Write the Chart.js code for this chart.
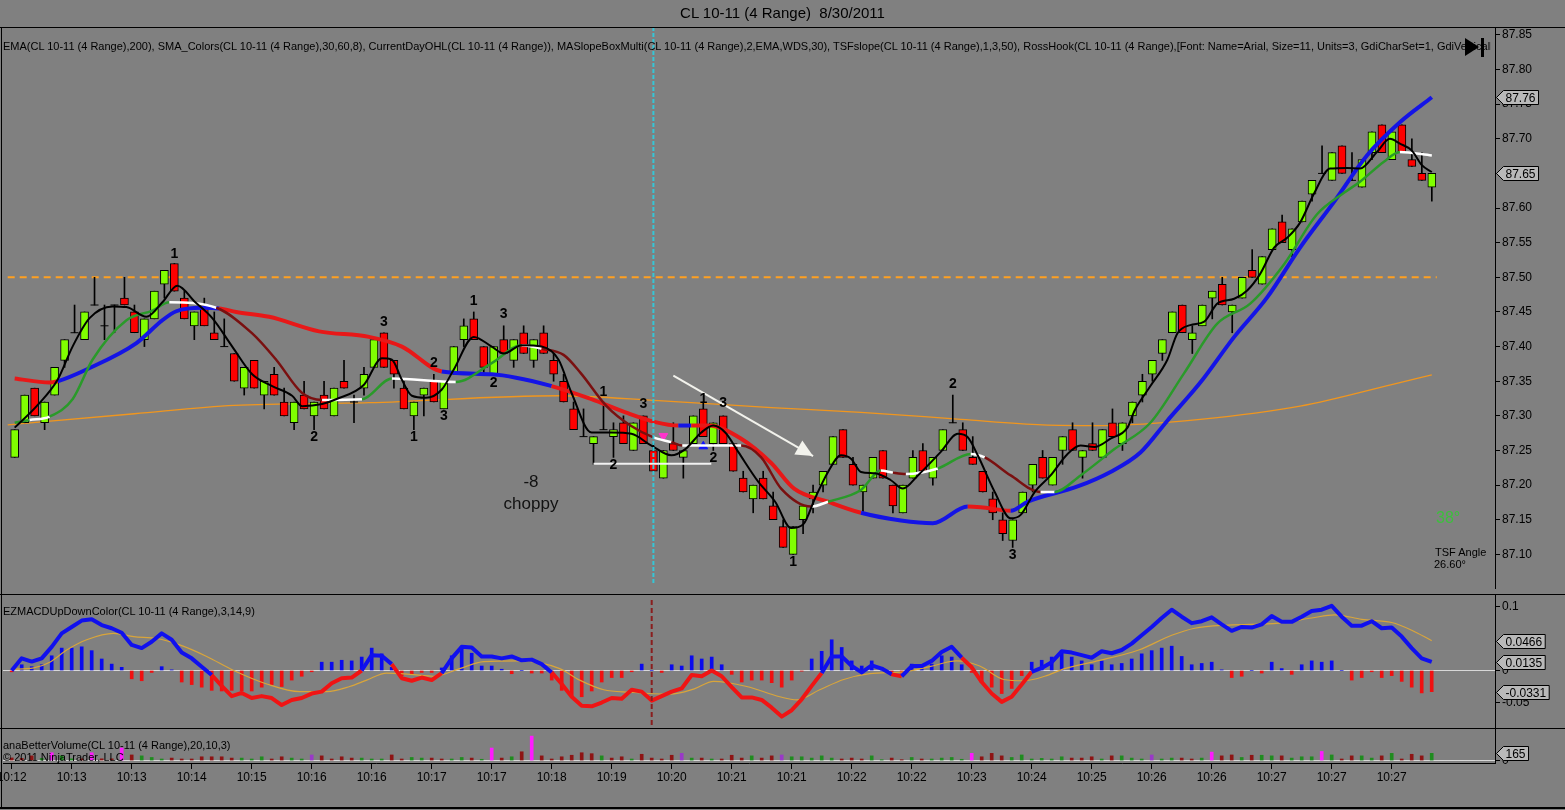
<!DOCTYPE html>
<html>
<head>
<meta charset="utf-8">
<script src="https://cdn.jsdelivr.net/npm/chart.js@4.4.0/dist/chart.umd.min.js"></script>
<style>
    html, body { margin: 0; padding: 0; background: #808080; }
    #wrap { position: relative; width: 1565px; height: 810px; overflow: hidden; background: #808080;
            font-family: "Liberation Sans", Arial, sans-serif; }
    canvas { position: absolute; left: 0; }
    .t { position: absolute; white-space: pre; color: #000; z-index: 6; }
    .ln { position: absolute; background: #000; z-index: 5; }
</style>
</head>
<body>
<div id="wrap">
    <canvas id="priceChart" width="1565" height="594" style="top:0"></canvas>
    <canvas id="macdChart" width="1565" height="134" style="top:594px"></canvas>
    <canvas id="volChart" width="1565" height="82" style="top:728px"></canvas>

    <div class="ln" style="left:0;top:27px;width:1565px;height:1px"></div>
    <div class="ln" style="left:0;top:594px;width:1565px;height:1px"></div>
    <div class="ln" style="left:0;top:728px;width:1565px;height:1px"></div>
    <div class="ln" style="left:0;top:807px;width:1565px;height:2px"></div>
    <div class="ln" style="left:1px;top:27px;width:1px;height:781px"></div>

    <div class="t" style="left:0;top:4px;width:1565px;text-align:center;font-size:15px">CL 10-11 (4 Range)  8/30/2011</div>
    <div class="t" style="left:3px;top:40px;width:1488px;overflow:hidden;font-size:11px">EMA(CL 10-11 (4 Range),200), SMA_Colors(CL 10-11 (4 Range),30,60,8), CurrentDayOHL(CL 10-11 (4 Range)), MASlopeBoxMulti(CL 10-11 (4 Range),2,EMA,WDS,30), TSFslope(CL 10-11 (4 Range),1,3,50), RossHook(CL 10-11 (4 Range),[Font: Name=Arial, Size=11, Units=3, GdiCharSet=1, GdiVerticalFont=False],3,2,4,5,True)</div>
    <div class="t" style="left:3px;top:605px;font-size:11px">EZMACDUpDownColor(CL 10-11 (4 Range),3,14,9)</div>
    <div class="t" style="left:3px;top:739px;font-size:11px">anaBetterVolume(CL 10-11 (4 Range),20,10,3)</div>
    <div class="t" style="left:3px;top:751px;font-size:11px">© 2011 NinjaTrader, LLC</div>
    <div class="t" style="left:491px;top:472px;width:80px;text-align:center;font-size:17px;color:#111">-8</div>
    <div class="t" style="left:491px;top:494px;width:80px;text-align:center;font-size:17px;color:#111">choppy</div>
    <div class="t" style="left:1436px;top:509px;font-size:16px;color:#3cbf3c">38°</div>
    <div class="t" style="left:1435px;top:546px;font-size:11px">TSF Angle</div>
    <div class="t" style="left:1434px;top:558px;font-size:11px">26.60°</div>
    <div style="position:absolute;left:1465px;top:38px;width:0;height:0;border-top:9px solid transparent;border-bottom:9px solid transparent;border-left:14px solid #000;z-index:6"></div>
    <div style="position:absolute;left:1481px;top:38px;width:3px;height:19px;background:#000;z-index:6"></div>
</div>

<script>
// ---- price bars (4 range), bar index 0..142 ----
const openPrices = [
    87.24, 87.29, 87.34, 87.29, 87.33, 87.38, 87.42, 87.41, 87.46, 87.43,
    87.46, 87.47, 87.45, 87.41, 87.44, 87.49, 87.52, 87.47, 87.43, 87.46,
    87.42, 87.40, 87.39, 87.34, 87.38, 87.33, 87.36, 87.32, 87.29, 87.33,
    87.30, 87.33, 87.30, 87.35, 87.32, 87.34, 87.37, 87.42, 87.38, 87.34,
    87.30, 87.33, 87.35, 87.31, 87.36, 87.41, 87.44, 87.40, 87.36, 87.41,
    87.38, 87.42, 87.38, 87.42, 87.38, 87.35, 87.31, 87.27, 87.26, 87.28,
    87.27, 87.29, 87.25, 87.30, 87.25, 87.21, 87.26, 87.24, 87.26, 87.31,
    87.26, 87.30, 87.26, 87.21, 87.18, 87.21, 87.17, 87.14, 87.10, 87.15,
    87.18, 87.20, 87.23, 87.28, 87.23, 87.19, 87.21, 87.25, 87.20, 87.16,
    87.21, 87.25, 87.21, 87.25, 87.29, 87.28, 87.24, 87.22, 87.18, 87.15,
    87.12, 87.16, 87.20, 87.24, 87.20, 87.25, 87.28, 87.24, 87.26, 87.24,
    87.29, 87.26, 87.30, 87.33, 87.36, 87.39, 87.42, 87.46, 87.41, 87.43,
    87.47, 87.49, 87.45, 87.47, 87.51, 87.49, 87.54, 87.58, 87.54, 87.58,
    87.62, 87.65, 87.64, 87.69, 87.64, 87.63, 87.68, 87.72, 87.67, 87.72,
    87.67, 87.65, 87.63
];
const highPrices = [
    87.28, 87.33, 87.34, 87.32, 87.37, 87.41, 87.46, 87.45, 87.50, 87.46,
    87.46, 87.50, 87.46, 87.44, 87.48, 87.51, 87.52, 87.48, 87.45, 87.47,
    87.45, 87.44, 87.39, 87.37, 87.38, 87.35, 87.37, 87.34, 87.32, 87.35,
    87.32, 87.35, 87.34, 87.38, 87.33, 87.37, 87.41, 87.42, 87.38, 87.35,
    87.32, 87.34, 87.36, 87.35, 87.40, 87.44, 87.45, 87.40, 87.40, 87.43,
    87.41, 87.43, 87.41, 87.43, 87.39, 87.36, 87.32, 87.31, 87.27, 87.32,
    87.29, 87.30, 87.29, 87.30, 87.26, 87.25, 87.29, 87.25, 87.30, 87.32,
    87.29, 87.30, 87.26, 87.22, 87.20, 87.22, 87.19, 87.15, 87.14, 87.17,
    87.20, 87.22, 87.27, 87.28, 87.24, 87.20, 87.24, 87.25, 87.20, 87.20,
    87.25, 87.26, 87.24, 87.28, 87.33, 87.29, 87.27, 87.22, 87.19, 87.16,
    87.15, 87.19, 87.23, 87.25, 87.24, 87.27, 87.29, 87.25, 87.29, 87.28,
    87.31, 87.29, 87.32, 87.36, 87.38, 87.41, 87.45, 87.46, 87.43, 87.46,
    87.48, 87.50, 87.46, 87.50, 87.54, 87.53, 87.57, 87.59, 87.57, 87.61,
    87.64, 87.69, 87.68, 87.69, 87.68, 87.67, 87.71, 87.72, 87.71, 87.72,
    87.70, 87.68, 87.65
];
const lowPrices = [
    87.24, 87.29, 87.30, 87.28, 87.33, 87.37, 87.42, 87.41, 87.46, 87.41,
    87.42, 87.46, 87.42, 87.40, 87.44, 87.47, 87.48, 87.44, 87.41, 87.43,
    87.41, 87.40, 87.35, 87.33, 87.34, 87.31, 87.33, 87.30, 87.28, 87.31,
    87.28, 87.31, 87.30, 87.34, 87.29, 87.33, 87.37, 87.37, 87.34, 87.31,
    87.28, 87.30, 87.32, 87.31, 87.36, 87.40, 87.41, 87.36, 87.36, 87.39,
    87.37, 87.39, 87.37, 87.39, 87.35, 87.32, 87.28, 87.27, 87.23, 87.28,
    87.24, 87.26, 87.25, 87.26, 87.22, 87.21, 87.25, 87.21, 87.26, 87.27,
    87.25, 87.26, 87.22, 87.19, 87.16, 87.18, 87.15, 87.11, 87.10, 87.13,
    87.16, 87.19, 87.23, 87.24, 87.20, 87.16, 87.21, 87.21, 87.16, 87.16,
    87.21, 87.22, 87.20, 87.25, 87.29, 87.25, 87.23, 87.19, 87.15, 87.12,
    87.11, 87.16, 87.19, 87.21, 87.20, 87.23, 87.25, 87.21, 87.25, 87.24,
    87.27, 87.25, 87.29, 87.32, 87.35, 87.38, 87.42, 87.42, 87.39, 87.43,
    87.44, 87.46, 87.42, 87.47, 87.50, 87.49, 87.54, 87.55, 87.53, 87.58,
    87.61, 87.65, 87.64, 87.65, 87.64, 87.63, 87.67, 87.68, 87.67, 87.68,
    87.66, 87.64, 87.61
];
const closePrices = [
    87.28, 87.33, 87.30, 87.32, 87.37, 87.41, 87.42, 87.45, 87.46, 87.43,
    87.46, 87.46, 87.42, 87.44, 87.48, 87.51, 87.48, 87.44, 87.45, 87.43,
    87.41, 87.40, 87.35, 87.37, 87.34, 87.35, 87.33, 87.30, 87.32, 87.31,
    87.32, 87.31, 87.34, 87.34, 87.32, 87.36, 87.41, 87.37, 87.36, 87.31,
    87.32, 87.34, 87.32, 87.35, 87.40, 87.43, 87.41, 87.37, 87.40, 87.39,
    87.41, 87.39, 87.41, 87.39, 87.36, 87.32, 87.28, 87.27, 87.27, 87.28,
    87.28, 87.26, 87.29, 87.26, 87.22, 87.25, 87.25, 87.25, 87.30, 87.27,
    87.29, 87.26, 87.22, 87.19, 87.20, 87.18, 87.15, 87.11, 87.14, 87.17,
    87.19, 87.22, 87.27, 87.24, 87.20, 87.20, 87.24, 87.21, 87.17, 87.20,
    87.24, 87.22, 87.24, 87.28, 87.29, 87.25, 87.23, 87.19, 87.16, 87.13,
    87.15, 87.19, 87.23, 87.21, 87.24, 87.27, 87.25, 87.25, 87.25, 87.28,
    87.27, 87.29, 87.32, 87.35, 87.38, 87.41, 87.45, 87.42, 87.42, 87.46,
    87.48, 87.46, 87.46, 87.50, 87.50, 87.53, 87.57, 87.55, 87.57, 87.61,
    87.64, 87.65, 87.68, 87.65, 87.64, 87.67, 87.71, 87.68, 87.71, 87.68,
    87.66, 87.64, 87.65
];

// ---- price indicators (vertices: bar position, value) ----
const ema200Bars = [-0.7, 12, 22, 35.5, 54.5, 64.5, 75.8, 84.8, 94.8, 103, 108.8, 118.8, 128.8, 138.8, 142];
const ema200Vals = [87.287, 87.303, 87.315, 87.319, 87.329, 87.322, 87.312, 87.305, 87.295, 87.287, 87.286, 87.295, 87.314, 87.348, 87.359];

const smaBars = [0, 3.5, 4.3, 7.2, 12.2, 14.8, 16.2, 18.8, 20.5, 22.2,
    25.5, 30.5, 35.5, 38.8, 42.8, 47.8, 53.8, 57.8, 61.2, 64.2,
    66.5, 67.8, 69.5, 72.8, 75.8, 78.1, 81.5, 84.8, 88.8, 92,
    95.5, 96.8, 99.8, 101.5, 106.5, 109.8, 112.8, 115.5, 118.8, 122.2,
    125.5, 128.8, 132.2, 135.5, 138.8, 142];
const smaVals = [87.354, 87.348, 87.350, 87.367, 87.405, 87.438, 87.451, 87.456, 87.455, 87.450,
    87.443, 87.422, 87.414, 87.400, 87.364, 87.360, 87.343, 87.324, 87.305, 87.291,
    87.286, 87.286, 87.286, 87.267, 87.232, 87.195, 87.176, 87.160, 87.149, 87.145,
    87.169, 87.168, 87.163, 87.176, 87.198, 87.219, 87.247, 87.293, 87.348, 87.414,
    87.471, 87.543, 87.609, 87.676, 87.724, 87.76];
// 1 = rising state, -1 = falling state (from each vertex to the next)
const smaTrend = [-1, -1, 1, 1, 1, 1, 1, 1, -1, -1,
    -1, -1, -1, -1, 1, 1, -1, -1, -1, -1,
    1, -1, -1, -1, -1, -1, -1, 1, 1, 1,
    -1, -1, 1, 1, 1, 1, 1, 1, 1, 1,
    1, 1, 1, 1, 1, 1];

const slowBars = [0, 1.5, 3.5, 5.8, 7.8, 11.2, 13.8, 15.5, 20.2, 23.8,
    26.2, 28.8, 30.8, 34.8, 37.8, 44.2, 47.8, 50.8, 52.8, 55,
    56.7, 59.3, 61.7, 64, 65.8, 66.9, 72.8, 74.8, 76.8, 79.8,
    81.5, 84.8, 86.8, 88, 89.3, 92.5, 95.8, 97.2, 99.8, 102.8,
    104.2, 106.8, 110.2, 113.8, 117.2, 120.5, 123.8, 127.2, 130.5, 133.2,
    134.8, 137.2, 138.8, 142];
const slowVals = [87.290, 87.294, 87.299, 87.324, 87.381, 87.438, 87.452, 87.464, 87.456, 87.419,
    87.381, 87.333, 87.323, 87.324, 87.354, 87.349, 87.376, 87.402, 87.397, 87.388,
    87.362, 87.314, 87.286, 87.269, 87.262, 87.257, 87.257, 87.240, 87.195, 87.169,
    87.176, 87.193, 87.221, 87.218, 87.216, 87.224, 87.245, 87.240, 87.214, 87.190,
    87.190, 87.214, 87.252, 87.290, 87.362, 87.433, 87.462, 87.519, 87.591, 87.622,
    87.638, 87.667, 87.681, 87.676];
// 1 = up, -1 = down, 0 = flat
const slowTrend = [1, 0, 1, 1, 1, 1, 1, 0, -1, -1,
    -1, -1, 0, 1, 0, 1, 1, 0, -1, -1,
    -1, -1, -1, 0, -1, 0, -1, -1, -1, 0,
    1, 1, 0, -1, 0, 1, 0, -1, -1, 0,
    1, 1, 1, 1, 1, 1, 1, 1, 1, 1,
    1, 1, 0, 0];

const fastBars = [0, 2.2, 4.3, 5.8, 7.5, 9.8, 11.2, 13.2, 14.8, 16.3,
    18.1, 19.8, 21.8, 23.8, 25.8, 27.8, 28.8, 30.8, 32.2, 35,
    36.8, 37.8, 38.8, 39.8, 41.2, 42.8, 44, 46, 47.8, 49,
    50.8, 52.8, 54.5, 55.8, 57.8, 59.8, 61.8, 63.8, 65.8, 67.2,
    68.8, 70, 71.2, 72.5, 74.5, 76.2, 77.8, 79, 80.2, 81.5,
    82.8, 83.8, 84.8, 86.2, 87.8, 89, 90.5, 92.8, 94.5, 95.5,
    96.5, 98.2, 99.8, 100.8, 102.2, 103.8, 105.5, 106.8, 108.2, 109.8,
    111.5, 112.2, 113.8, 115.5, 116.5, 117.8, 119.2, 120.5, 122.2, 123.5,
    124.8, 126.2, 127.5, 128.8, 130.2, 131.8, 133.5, 134.8, 136.5, 137.8,
    138.8, 140, 141, 142];
const fastVals = [87.283, 87.314, 87.352, 87.400, 87.441, 87.458, 87.457, 87.443, 87.464, 87.488,
    87.464, 87.441, 87.400, 87.360, 87.343, 87.329, 87.314, 87.317, 87.324, 87.345,
    87.383, 87.381, 87.352, 87.329, 87.326, 87.338, 87.367, 87.414, 87.400, 87.390,
    87.402, 87.400, 87.381, 87.333, 87.276, 87.276, 87.274, 87.257, 87.243, 87.252,
    87.276, 87.286, 87.276, 87.248, 87.205, 87.176, 87.138, 87.143, 87.181, 87.219,
    87.243, 87.238, 87.219, 87.217, 87.207, 87.195, 87.214, 87.248, 87.274, 87.269,
    87.243, 87.190, 87.152, 87.157, 87.190, 87.214, 87.245, 87.257, 87.255, 87.267,
    87.283, 87.307, 87.343, 87.381, 87.419, 87.431, 87.436, 87.462, 87.469, 87.481,
    87.505, 87.543, 87.557, 87.579, 87.621, 87.657, 87.658, 87.657, 87.681, 87.700,
    87.693, 87.683, 87.662, 87.652];

const dayHigh = 87.50;

// swing labels (Ross hook counts)
const swingBars = [16, 30, 37, 40, 42, 43, 46, 48, 49, 59, 60, 63, 69, 70, 71, 78, 94, 100];
const swingPrices = [87.534, 87.269, 87.436, 87.269, 87.376, 87.300, 87.466, 87.347, 87.447,
    87.334, 87.229, 87.317, 87.324, 87.239, 87.319, 87.089, 87.346, 87.099];
const swingTexts = ["1", "2", "3", "1", "2", "3", "1", "2", "3", "1", "2", "3", "1", "2", "3", "1", "2", "3"];

// hand drawn objects
const boxLineBars = [58, 69.8];
const boxLinePrice = [87.231, 87.231];
const arrowBars = [66, 80];
const arrowPrices = [87.358, 87.242];
const markerBars = [65, 69];
const markerPrices = [87.271, 87.256];
const signalBar = 64;

// ---- MACD panel ----
const macdVals = [
    0.000, 0.019, 0.014, 0.019, 0.037, 0.058, 0.068, 0.078, 0.080, 0.071,
    0.066, 0.059, 0.040, 0.035, 0.045, 0.058, 0.048, 0.028, 0.019, 0.006,
    -0.007, -0.024, -0.040, -0.035, -0.043, -0.040, -0.043, -0.054, -0.046, -0.043,
    -0.036, -0.033, -0.020, -0.012, -0.011, 0.000, 0.024, 0.023, 0.010, -0.012,
    -0.016, -0.011, -0.015, -0.004, 0.019, 0.037, 0.036, 0.022, 0.022, 0.019,
    0.022, 0.016, 0.017, 0.010, -0.003, -0.021, -0.041, -0.055, -0.056, -0.050,
    -0.043, -0.044, -0.030, -0.033, -0.047, -0.040, -0.033, -0.028, -0.007, -0.009,
    0.000, -0.009, -0.026, -0.042, -0.042, -0.046, -0.058, -0.072, -0.062, -0.045,
    -0.024, -0.004, 0.022, 0.022, 0.007, -0.003, 0.008, 0.003, -0.006, -0.009,
    0.007, 0.007, 0.015, 0.029, 0.037, 0.020, 0.005, -0.018, -0.036, -0.049,
    -0.041, -0.022, -0.002, 0.004, 0.013, 0.030, 0.028, 0.024, 0.020, 0.030,
    0.027, 0.032, 0.042, 0.055, 0.068, 0.082, 0.095, 0.084, 0.074, 0.077,
    0.083, 0.072, 0.062, 0.068, 0.067, 0.072, 0.085, 0.076, 0.076, 0.084,
    0.093, 0.095, 0.101, 0.084, 0.070, 0.070, 0.077, 0.066, 0.067, 0.053,
    0.035, 0.019, 0.0135
];
// bar ranges where the MACD line is drawn in its "down" colour
const macdDownRuns = [[20, 35], [38, 43], [54, 81], [88, 89], [95, 102]];

const signalBars = [0, 2.2, 3.8, 5.5, 7.5, 10.2, 12.2, 14.5, 16.8, 19.5,
    22.2, 25.5, 28.8, 31.5, 33.8, 35.5, 37.5, 39.8, 42.2, 44.8,
    47.2, 50.8, 54.8, 56.8, 59.2, 61.8, 65.8, 68.2, 70.2, 73.5,
    76.8, 78.5, 80.8, 83.2, 85.8, 89.2, 91.8, 94.5, 96.8, 99.2,
    101.2, 103.3, 105.3, 108.3, 112.7, 116, 118.3, 121.7, 126.7, 130,
    132.3, 135, 138, 140, 142];
const signalVals = [0.002, 0.004, 0.013, 0.032, 0.048, 0.058, 0.053, 0.050, 0.040, 0.022,
    0.000, -0.021, -0.033, -0.033, -0.025, -0.015, -0.004, -0.006, -0.009, 0.003,
    0.014, 0.015, 0.003, -0.015, -0.030, -0.034, -0.037, -0.029, -0.017, -0.025,
    -0.041, -0.046, -0.030, -0.014, -0.005, -0.002, 0.006, 0.015, 0.007, -0.014,
    -0.016, -0.009, 0.003, 0.014, 0.032, 0.055, 0.066, 0.071, 0.074, 0.082,
    0.087, 0.080, 0.075, 0.063, 0.0466];

const histVals = [
    -0.002, 0.009, 0.006, 0.009, 0.023, 0.035, 0.035, 0.037, 0.031, 0.018,
    0.010, 0.005, -0.013, -0.016, -0.003, 0.006, 0.001, -0.018, -0.022, -0.026,
    -0.031, -0.032, -0.031, -0.032, -0.032, -0.026, -0.022, -0.025, -0.015, -0.009,
    -0.002, 0.013, 0.013, 0.016, 0.015, 0.021, 0.035, 0.026, 0.005, -0.008,
    -0.006, -0.003, -0.003, 0.004, 0.023, 0.038, 0.027, 0.007, 0.007, 0.002,
    -0.005, 0.000, -0.004, -0.004, -0.015, -0.031, -0.041, -0.041, -0.032, -0.018,
    -0.011, -0.011, -0.002, 0.010, 0.000, -0.003, 0.009, 0.007, 0.023, 0.018,
    0.021, 0.009, -0.006, -0.018, -0.015, -0.015, -0.019, -0.026, -0.015, -0.001,
    0.018, 0.030, 0.048, 0.036, 0.015, 0.007, 0.015, 0.004, -0.008, -0.004,
    0.010, 0.009, 0.010, 0.023, 0.021, 0.009, -0.003, -0.019, -0.026, -0.036,
    -0.028, -0.008, 0.013, 0.016, 0.021, 0.031, 0.021, 0.015, 0.009, 0.015,
    0.009, 0.011, 0.018, 0.026, 0.031, 0.035, 0.038, 0.022, 0.009, 0.011,
    0.013, 0.001, -0.011, -0.009, 0.000, -0.004, 0.013, 0.003, -0.006, 0.009,
    0.015, 0.013, 0.015, 0.000, -0.015, -0.011, -0.002, -0.011, -0.008, -0.017,
    -0.026, -0.035, -0.0331
];

// ---- volume panel ----
const volumes = [
    60, 50, 107, 50, 178, 107, 40, 40, 178, 40,
    40, 285, 128, 107, 71, 36, 57, 36, 36, 86,
    86, 86, 57, 57, 36, 86, 36, 86, 57, 36,
    128, 107, 36, 86, 57, 57, 36, 36, 128, 36,
    71, 57, 57, 36, 36, 71, 57, 30, 285, 57,
    86, 200, 556, 107, 36, 86, 121, 178, 157, 107,
    57, 86, 36, 143, 57, 36, 121, 164, 57, 57,
    36, 36, 121, 57, 107, 57, 107, 128, 86, 86,
    57, 107, 57, 36, 57, 36, 107, 20, 57, 20,
    71, 36, 36, 57, 71, 30, 164, 86, 164, 107,
    71, 128, 36, 50, 36, 86, 57, 57, 86, 36,
    107, 107, 57, 36, 128, 36, 57, 57, 36, 57,
    193, 107, 128, 71, 121, 121, 107, 107, 57, 86,
    86, 207, 128, 36, 107, 107, 57, 107, 164, 36,
    143, 107, 165
];
// u = up, d = down, c = climax, p = churn
const volumeTypes = [
    "d", "d", "d", "u", "c", "u", "u", "d", "c", "d",
    "d", "c", "d", "u", "u", "u", "d", "d", "d", "d",
    "d", "d", "d", "u", "u", "u", "d", "d", "u", "u",
    "p", "d", "d", "d", "d", "u", "u", "u", "d", "d",
    "u", "u", "d", "d", "u", "u", "d", "u", "c", "d",
    "u", "d", "c", "d", "d", "d", "d", "d", "d", "u",
    "d", "d", "u", "d", "d", "d", "d", "p", "u", "d",
    "u", "d", "d", "d", "u", "d", "d", "p", "u", "u",
    "u", "u", "u", "d", "d", "d", "u", "u", "d", "d",
    "u", "d", "u", "u", "u", "u", "c", "d", "d", "d",
    "u", "u", "u", "u", "u", "u", "d", "d", "d", "u",
    "d", "u", "u", "u", "p", "u", "u", "d", "d", "u",
    "c", "d", "d", "u", "d", "u", "u", "d", "u", "u",
    "u", "c", "u", "d", "d", "u", "u", "d", "u", "d",
    "d", "d", "u"
];

// ---- axes ----
const priceTicks = [87.85, 87.80, 87.75, 87.70, 87.65, 87.60, 87.55, 87.50, 87.45, 87.40,
    87.35, 87.30, 87.25, 87.20, 87.15, 87.10];
const macdTicks = [0.1, 0, -0.05];
const macdTickLabels = ["0.1", "0", "-0.05"];
const volTicks = [0];
const xTickBars = [0, 6, 12, 18, 24, 30, 36, 42, 48, 54, 60, 66, 72, 78, 84, 90, 96, 102, 108, 114, 120, 126, 132, 138];
const xTickLabels = ["10:12", "10:13", "10:13", "10:14", "10:15", "10:16", "10:16", "10:17", "10:17", "10:18",
    "10:19", "10:20", "10:21", "10:21", "10:22", "10:22", "10:23", "10:24", "10:25", "10:26",
    "10:26", "10:27", "10:27", "10:27"];

const X_MIN = -0.87;
const X_MAX = 148.33;
const FONT = '"Liberation Sans", Arial, sans-serif';
const RIGHT_AXIS = 70;

Chart.defaults.font.family = FONT;
Chart.defaults.font.size = 12;
Chart.defaults.color = "#000";
Chart.defaults.animation = false;

const GREEN = "#80ff00";
const RED = "#ff0000";
const BLUE = "#1414e6";
const VOL_COLORS = { u: "#1f8c1f", d: "#8e1414", c: "#ff1aff", p: "#9a38c8" };

function pts(xs, ys) {
    return xs.map((x, k) => ({ x: x, y: ys[k] }));
}

function hiddenX() {
    return { type: "linear", min: X_MIN, max: X_MAX, display: false, offset: false };
}

function rightAxis(min, max, ticks, labelFn, gridColor) {
    return {
        type: "linear",
        position: "right",
        min: min,
        max: max,
        afterBuildTicks: (s) => { s.ticks = ticks.map((v) => ({ value: v })); },
        afterFit: (s) => { s.width = RIGHT_AXIS; s.paddingTop = 0; s.paddingBottom = 0; },
        ticks: { callback: labelFn, padding: 2, font: { size: 12 } },
        grid: {
            drawOnChartArea: !!gridColor,
            color: gridColor || "#000",
            tickColor: "#000",
            tickLength: 5,
        },
        border: { display: true, color: "#000", width: 1 },
    };
}

function drawTag(chart, value, text) {
    const ctx = chart.ctx;
    const py = Math.round(chart.scales.y.getPixelForValue(value)) + 0.5;
    const x0 = chart.chartArea.right + 1.5;
    ctx.save();
    ctx.font = "12px " + FONT;
    const w = ctx.measureText(text).width + 5;
    ctx.beginPath();
    ctx.moveTo(x0, py);
    ctx.lineTo(x0 + 7, py - 7);
    ctx.lineTo(x0 + 7 + w, py - 7);
    ctx.lineTo(x0 + 7 + w, py + 7);
    ctx.lineTo(x0 + 7, py + 7);
    ctx.closePath();
    ctx.fillStyle = "#b9b9b9";
    ctx.fill();
    ctx.strokeStyle = "#000";
    ctx.lineWidth = 1;
    ctx.stroke();
    ctx.fillStyle = "#000";
    ctx.textAlign = "left";
    ctx.textBaseline = "middle";
    ctx.fillText(text, x0 + 9, py + 1);
    ctx.restore();
}

function vLine(chart, bar, color, dash, width, top, bottom) {
    const ctx = chart.ctx;
    const px = chart.scales.x.getPixelForValue(bar);
    ctx.save();
    ctx.strokeStyle = color;
    ctx.lineWidth = width;
    ctx.setLineDash(dash);
    ctx.beginPath();
    ctx.moveTo(px, top);
    ctx.lineTo(px, bottom);
    ctx.stroke();
    ctx.restore();
}

const last = (arr) => arr[arr.length - 1];

// ---------------- price chart ----------------
const dojiBars = openPrices.map((o, i) => i).filter((i) => openPrices[i] === closePrices[i]);

const priceMarks = {
    id: "priceMarks",
    afterDatasetsDraw(chart) {
        const { ctx, chartArea: a, scales: { x, y } } = chart;
        vLine(chart, signalBar, "#36c6d6", [4, 2], 2, a.top, a.bottom - 3);

        // arrow head of the hand-drawn trend arrow
        const x1 = x.getPixelForValue(arrowBars[0]), y1 = y.getPixelForValue(arrowPrices[0]);
        const x2 = x.getPixelForValue(arrowBars[1]), y2 = y.getPixelForValue(arrowPrices[1]);
        const ang = Math.atan2(y2 - y1, x2 - x1);
        ctx.save();
        ctx.translate(x2, y2);
        ctx.rotate(ang);
        ctx.beginPath();
        ctx.moveTo(0, 0);
        ctx.lineTo(-17, -8);
        ctx.lineTo(-17, 8);
        ctx.closePath();
        ctx.fillStyle = "#f2f2ec";
        ctx.fill();
        ctx.restore();

        ctx.save();
        ctx.font = "bold 14px " + FONT;
        ctx.fillStyle = "#000";
        ctx.textAlign = "center";
        ctx.textBaseline = "middle";
        swingBars.forEach((b, k) => {
            ctx.fillText(swingTexts[k], x.getPixelForValue(b), y.getPixelForValue(swingPrices[k]));
        });
        ctx.restore();
    },
    afterDraw(chart) {
        drawTag(chart, last(smaVals), last(smaVals).toFixed(2));
        drawTag(chart, last(closePrices), last(closePrices).toFixed(2));
    },
};

new Chart(document.getElementById("priceChart"), {
    type: "bar",
    data: {
        datasets: [
            {
                type: "line",
                data: pts(fastBars, fastVals),
                borderColor: "#000",
                borderWidth: 2,
                pointRadius: 0,
                cubicInterpolationMode: "monotone",
                order: 0,
            },
            {
                type: "line",
                data: pts(slowBars, slowVals),
                borderColor: "#228b22",
                borderWidth: 2.5,
                pointRadius: 0,
                cubicInterpolationMode: "monotone",
                segment: {
                    borderColor: (c) => {
                        const t = slowTrend[c.p0DataIndex];
                        return t > 0 ? "#2a9a2a" : t < 0 ? "#7a1010" : "#ffffff";
                    },
                },
                order: 1,
            },
            {
                type: "line",
                data: pts(smaBars, smaVals),
                borderColor: BLUE,
                borderWidth: 4,
                pointRadius: 0,
                cubicInterpolationMode: "monotone",
                segment: {
                    borderColor: (c) => (smaTrend[c.p0DataIndex] > 0 ? BLUE : "#e81818"),
                },
                order: 2,
            },
            {
                type: "line",
                data: pts(arrowBars, arrowPrices),
                borderColor: "#f2f2ec",
                borderWidth: 2,
                pointRadius: 0,
                order: 2,
            },
            {
                type: "line",
                data: pts(boxLineBars, boxLinePrice),
                borderColor: "#f2f2f2",
                borderWidth: 2,
                pointRadius: 0,
                order: 2,
            },
            {
                type: "line",
                data: pts(markerBars, markerPrices),
                showLine: false,
                pointStyle: "triangle",
                pointRadius: 5,
                pointRotation: [180, 0],
                pointBackgroundColor: ["#ff33cc", "#1010ff"],
                pointBorderColor: ["#ff33cc", "#1010ff"],
                order: 2,
            },
            {
                type: "line",
                data: dojiBars.map((i) => ({ x: i, y: openPrices[i] })),
                showLine: false,
                pointStyle: "line",
                pointRadius: 4,
                pointBorderColor: "#000",
                pointBorderWidth: 1,
                order: 3,
            },
            {
                type: "bar",
                data: openPrices.map((o, i) => ({ x: i, y: [o, closePrices[i]] })),
                backgroundColor: (c) => (closePrices[c.dataIndex] >= openPrices[c.dataIndex] ? GREEN : RED),
                borderColor: "#000",
                borderWidth: 1,
                borderSkipped: false,
                barThickness: 8,
                grouped: false,
                order: 3,
            },
            {
                type: "bar",
                data: lowPrices.map((l, i) => ({ x: i, y: [l, highPrices[i]] })),
                backgroundColor: "#000",
                borderWidth: 0,
                barThickness: 1,
                grouped: false,
                order: 4,
            },
            {
                type: "line",
                data: pts(ema200Bars, ema200Vals),
                borderColor: "#f0961e",
                borderWidth: 1.3,
                pointRadius: 0,
                cubicInterpolationMode: "monotone",
                order: 5,
            },
            {
                type: "line",
                data: [{ x: -0.7, y: dayHigh }, { x: 142.5, y: dayHigh }],
                borderColor: "#ffa020",
                borderWidth: 2,
                borderDash: [7, 5],
                pointRadius: 0,
                order: 6,
            },
        ],
    },
    options: {
        responsive: false,
        events: [],
        layout: { padding: { left: 3, top: 27, right: 0, bottom: 0 } },
        plugins: { legend: { display: false }, tooltip: { enabled: false } },
        scales: {
            x: hiddenX(),
            y: rightAxis(87.05143, 87.86143, priceTicks, (v) => Number(v).toFixed(2), null),
        },
    },
    plugins: [priceMarks],
});

// ---------------- MACD chart ----------------
const isDown = (i) => macdDownRuns.some((r) => i >= r[0] && i < r[1]);

const macdMarks = {
    id: "macdMarks",
    afterDatasetsDraw(chart) {
        vLine(chart, signalBar, "#8a1e1e", [5, 3], 2, chart.chartArea.top + 6, chart.chartArea.bottom - 3);
    },
    afterDraw(chart) {
        drawTag(chart, last(signalVals), last(signalVals).toFixed(4));
        drawTag(chart, last(macdVals), last(macdVals).toFixed(4));
        drawTag(chart, last(histVals), last(histVals).toFixed(4));
    },
};

new Chart(document.getElementById("macdChart"), {
    type: "bar",
    data: {
        datasets: [
            {
                type: "line",
                data: macdVals.map((v, i) => ({ x: i, y: v })),
                borderColor: BLUE,
                borderWidth: 4,
                pointRadius: 0,
                borderJoinStyle: "round",
                segment: { borderColor: (c) => (isDown(c.p0DataIndex) ? "#f01414" : "#1010ee") },
                order: 0,
            },
            {
                type: "line",
                data: pts(signalBars, signalVals),
                borderColor: "#d9a53a",
                borderWidth: 1.2,
                pointRadius: 0,
                cubicInterpolationMode: "monotone",
                order: 1,
            },
            {
                type: "bar",
                data: histVals.map((v, i) => ({ x: i, y: v })),
                backgroundColor: (c) => (histVals[c.dataIndex] >= 0 ? "#0a0aee" : "#f01010"),
                barThickness: 3,
                grouped: false,
                order: 2,
            },
        ],
    },
    options: {
        responsive: false,
        events: [],
        layout: { padding: { left: 3, top: 0, right: 0, bottom: 0 } },
        plugins: { legend: { display: false }, tooltip: { enabled: false } },
        scales: {
            x: hiddenX(),
            y: rightAxis(-0.0898, 0.1195, macdTicks, (v, i) => macdTickLabels[i],
                (c) => (c.tick && c.tick.value === 0 ? "#d8d8d8" : "rgba(0,0,0,0)")),
        },
    },
    plugins: [macdMarks],
});

// ---------------- volume chart ----------------
const volMarks = {
    id: "volMarks",
    afterDraw(chart) {
        drawTag(chart, last(volumes), String(last(volumes)));
    },
};

new Chart(document.getElementById("volChart"), {
    type: "bar",
    data: {
        datasets: [
            {
                data: volumes.map((v, i) => ({ x: i, y: v })),
                backgroundColor: (c) => VOL_COLORS[volumeTypes[c.dataIndex]] || VOL_COLORS.u,
                barThickness: 3,
                grouped: false,
            },
        ],
    },
    options: {
        responsive: false,
        events: [],
        layout: { padding: { left: 3, top: 0, right: 0, bottom: 0 } },
        plugins: { legend: { display: false }, tooltip: { enabled: false } },
        scales: {
            x: {
                type: "linear",
                min: X_MIN,
                max: X_MAX,
                offset: false,
                afterBuildTicks: (s) => { s.ticks = xTickBars.map((v) => ({ value: v })); },
                afterFit: (s) => { s.height = 47; s.paddingLeft = 0; s.paddingRight = 0; },
                ticks: {
                    callback: (v, i) => xTickLabels[i],
                    autoSkip: false,
                    maxRotation: 0,
                    minRotation: 0,
                    padding: 1,
                    font: { size: 12 },
                },
                grid: { drawOnChartArea: false, color: "#000", tickLength: 6, offset: false },
                border: { display: true, color: "#000", width: 1 },
            },
            y: rightAxis(-55, 740, volTicks, (v) => String(v),
                (c) => (c.tick && c.tick.value === 0 ? "#d8d8d8" : "rgba(0,0,0,0)")),
        },
    },
    plugins: [volMarks],
});
</script>
</body>
</html>
